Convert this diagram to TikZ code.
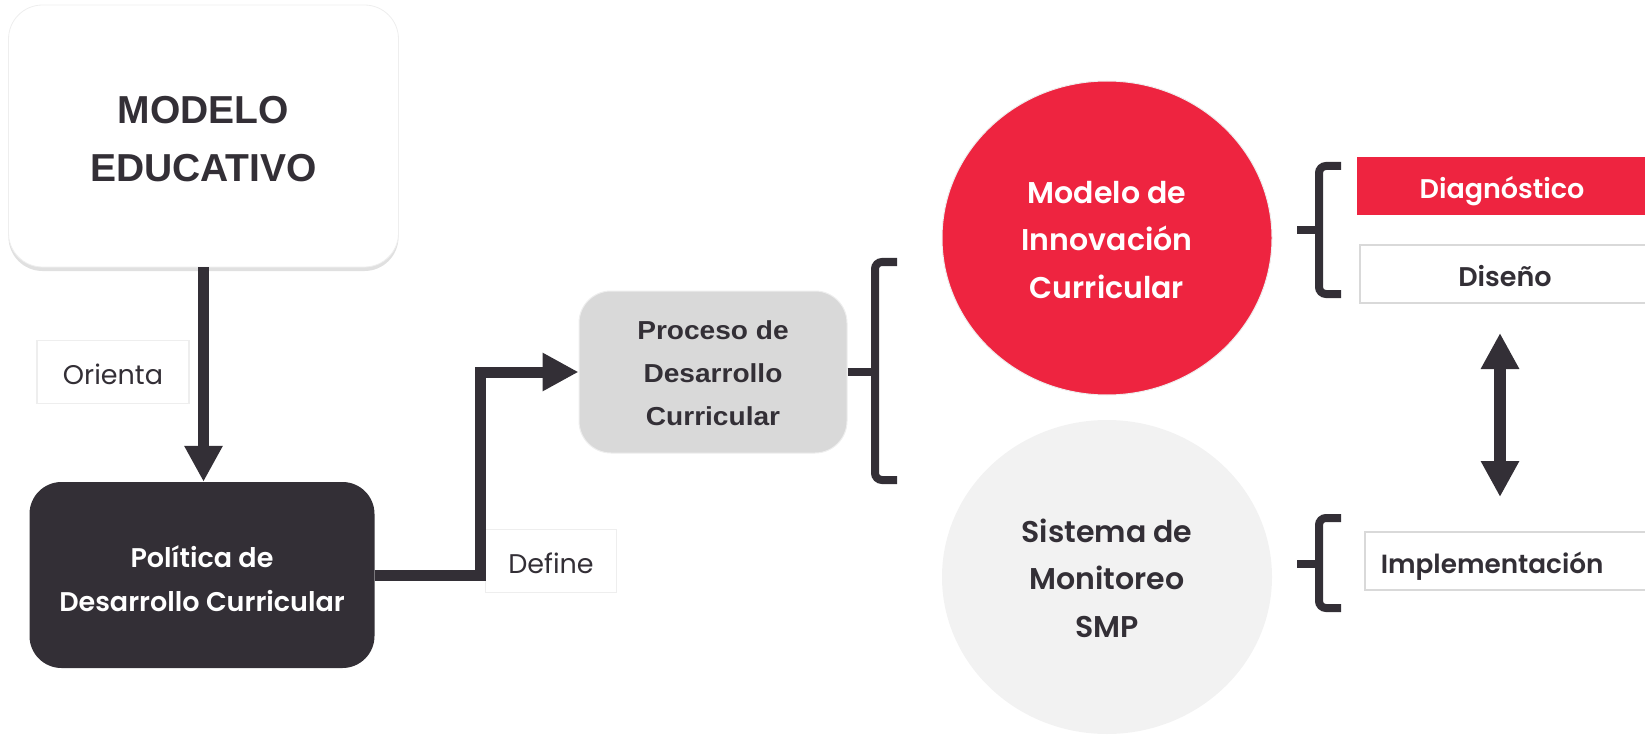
\documentclass[tikz,border=0pt]{standalone}
\usepackage{fontspec}
\setmainfont{Poppins}[BoldFont={Poppins SemiBold}]
\newfontfamily\ligera{Poppins Light}
\newfontfamily\helv{Liberation Sans}
\newfontfamily\helvancha{Liberation Sans}[FakeStretch=1.08]
\usetikzlibrary{arrows.meta,positioning,shapes.geometric,shadows}

\definecolor{tinta}{HTML}{332F36}
\definecolor{rojo}{HTML}{EE2440}
\definecolor{gris}{HTML}{D9D9D9}
\definecolor{grisclaro}{HTML}{F2F2F2}
\definecolor{borde}{HTML}{EEEEEE}
\definecolor{bordeosc}{HTML}{D9D9D9}

\newcommand\fuente[2]{\fontsize{#1}{#2}\selectfont}

\tikzset{
  caja/.style={rounded corners=34pt, inner sep=0pt, align=center},
  etiqueta/.style={draw=borde, fill=white, line width=1.5pt, inner sep=0pt,
    minimum width=152pt, minimum height=63pt, text height=25pt, text depth=0pt,
    text=tinta, font=\fuente{27}{32}},
  fase/.style={draw=bordeosc, fill=white, line width=1.5pt, inner sep=0pt,
    minimum width=290pt, minimum height=58pt, text height=25pt, text depth=0pt,
    text=tinta, font=\bfseries\fuente{27}{32}},
  circulo/.style={ellipse, inner sep=0pt, minimum width=330pt, minimum height=314pt,
    align=center, font=\bfseries\fuente{30}{47.5}},
  flecha/.style={draw=tinta, line width=11pt, -{Triangle[width=36pt,length=36pt]}},
  llave/.style={draw=tinta, line width=8pt, rounded corners=7pt}
}

\begin{document}
\begin{tikzpicture}[x=1pt,y=-1pt]
  \useasboundingbox (0,0) rectangle (1645,735);

  % columna izquierda
  \node[caja, fill=white, draw=borde, line width=0.8pt,
    drop shadow={shadow xshift=0pt, shadow yshift=-4pt, opacity=0.12, fill=black},
    minimum width=390pt, minimum height=262pt, text=tinta,
    font=\helv\bfseries\fuente{39}{58}] (modelo) at (203.5,136) {\rule{0pt}{34pt}MODELO\\EDUCATIVO};
  \node[caja, fill=tinta, rounded corners=32pt, minimum width=345pt, minimum height=186pt,
    text=white, font=\bfseries\fuente{27}{44}] (politica) at (202,575)
    {\rule{0pt}{30pt}Política de\\Desarrollo Curricular};
  \node[etiqueta] (orienta) at (113,372) {Orienta};
  \draw[flecha] (modelo.south) -- (modelo.south |- politica.north);

  % proceso
  \node[caja, fill=gris, draw=borde, line width=1pt, rounded corners=32pt,
    minimum width=268pt, minimum height=162pt, text=tinta,
    font=\helvancha\bfseries\fuente{26}{43}] (proceso) at (713,372)
    {\rule{0pt}{22pt}Proceso de\\Desarrollo\\Curricular};
  \node[etiqueta, minimum width=131pt] (define) at (551,561) {Define};
  \draw[flecha] (politica.east) -- ++(105.5,0) |- (proceso.west);

  % llave del proceso
  \draw[llave] (proceso.east) -- (875,372);
  \draw[llave] (897,262) -- (875,262) -- (875,480) -- (897,480);

  % circulos
  \node[circulo, fill=rojo, draw=borde, line width=1pt, text=white] (innovacion) at (1107,238)
    {\rule{0pt}{26pt}Modelo de\\Innovación\\Curricular};
  \node[circulo, fill=grisclaro, text=tinta] (monitoreo) at (1107,577)
    {\rule{0pt}{26pt}Sistema de\\Monitoreo\\SMP};

  % fases
  \draw[llave] (1297,230) -- (1319,230);
  \draw[llave] (1341,166) -- (1319,166) -- (1319,294) -- (1341,294);
  \node[fase, fill=rojo, draw=none, text=white] (diagnostico) at (1502,186) {Diagnóstico};
  \node[fase] (diseno) at (1505,274) {Diseño};

  \draw[llave] (1297,564) -- (1319,564);
  \draw[llave] (1341,518) -- (1319,518) -- (1319,608) -- (1341,608);
  \node[fase, anchor=west, minimum width=300pt, text width=270pt, inner xsep=16pt,
    align=left, font=\bfseries\fuente{26.3}{32}] (implementacion) at (1364,561) {Implementación};

  \coordinate (ciclo1) at (1500,333);
  \coordinate (ciclo2) at (1500,497);
  \draw[flecha, line width=12pt, {Triangle[width=36pt,length=36pt]}-{Triangle[width=36pt,length=36pt]}]
    (ciclo1) -- (ciclo2);
\end{tikzpicture}
\end{document}
